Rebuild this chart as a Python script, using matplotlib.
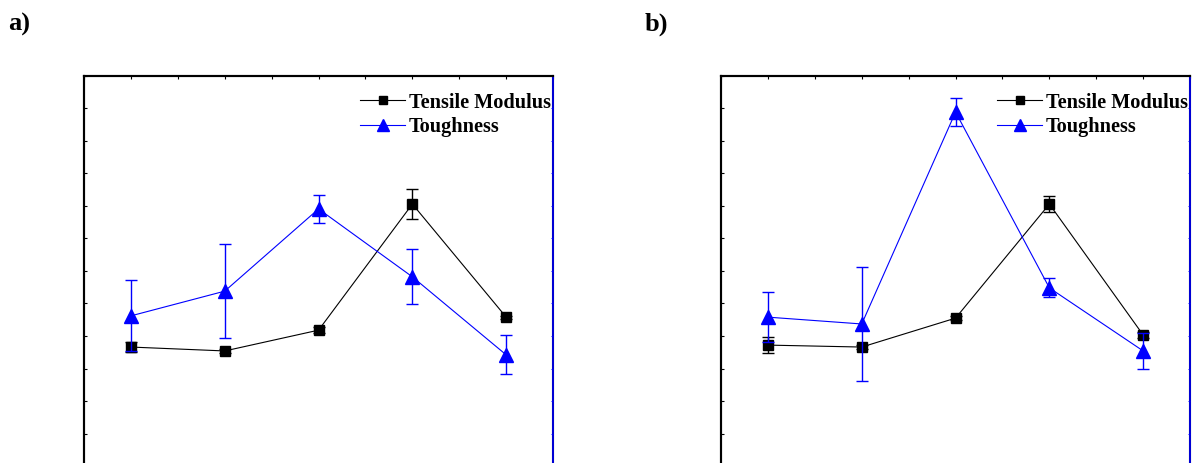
import matplotlib.pyplot as plt
import numpy as np

plt.rcParams['font.family'] = ['Liberation Serif', 'DejaVu Serif']

x = [1, 2, 3, 4, 5]

# panel a)
mod_a = [3.66, 3.54, 4.18, 8.06, 4.58]
mod_a_err = [0.15, 0.05, 0.1, 0.45, 0.05]
tough_a = [4.62, 5.38, 7.91, 5.82, 3.42]
tough_a_err = [1.09, 1.45, 0.42, 0.85, 0.6]

# panel b)
mod_b = [3.72, 3.66, 4.55, 8.06, 4.03]
mod_b_err = [0.25, 0.05, 0.05, 0.26, 0.1]
tough_b = [4.58, 4.37, 10.89, 5.48, 3.54]
tough_b_err = [0.78, 1.74, 0.43, 0.29, 0.55]

fig = plt.figure(figsize=(11.92, 4.63), dpi=100)


def panel(left, mod, mod_err, tough, tough_err, label):
    ax = fig.add_axes([left, -0.1469, 0.3935, 0.9828])
    ax2 = ax.twinx()
    for a in (ax, ax2):
        a.set_xlim(0.5, 5.5)
        a.set_ylim(-2, 12)
        a.set_yticks(np.arange(-2, 12.5, 1))
        a.set_yticklabels([])
    ax.set_xticks(np.arange(0.5, 5.6, 0.5))
    ax.set_xticklabels([])
    ax.tick_params(direction='in', length=2.5, width=0.8, top=True, bottom=True)
    ax2.tick_params(direction='in', length=1.5, width=0.6, colors='blue')
    for s in ax.spines.values():
        s.set_linewidth(1.5)
    for s in ax2.spines.values():
        s.set_linewidth(1.5)
    ax2.spines['right'].set_color('blue')
    ax2.spines['right'].set_linewidth(1.2)

    ax.errorbar(x, mod, yerr=mod_err, fmt='none', ecolor='black',
                elinewidth=1, capsize=4, capthick=1)
    l1, = ax.plot(x, mod, color='black', lw=0.8, marker='s', markersize=7,
                  label='Tensile Modulus')
    ax2.errorbar(x, tough, yerr=tough_err, fmt='none', ecolor='blue',
                 elinewidth=1, capsize=4, capthick=1)
    l2, = ax2.plot(x, tough, color='blue', lw=0.8, marker='^', markersize=10,
                   label='Toughness')

    ax2.legend(handles=[l1, l2], loc='upper right', frameon=False,
               prop={'weight': 'bold', 'size': 14.6}, handlelength=2.2,
               handletextpad=0.2, labelspacing=0.22, borderaxespad=0.0,
               borderpad=0.1, bbox_to_anchor=(1.0, 0.968), markerscale=0.85)
    fig.text(left - 0.064, 0.947, label, fontsize=19, fontweight='bold',
             va='center')


panel(0.0705, mod_a, mod_a_err, tough_a, tough_a_err, 'a)')
panel(0.6049, mod_b, mod_b_err, tough_b, tough_b_err, 'b)')

fig.savefig('out.png', dpi=100)
